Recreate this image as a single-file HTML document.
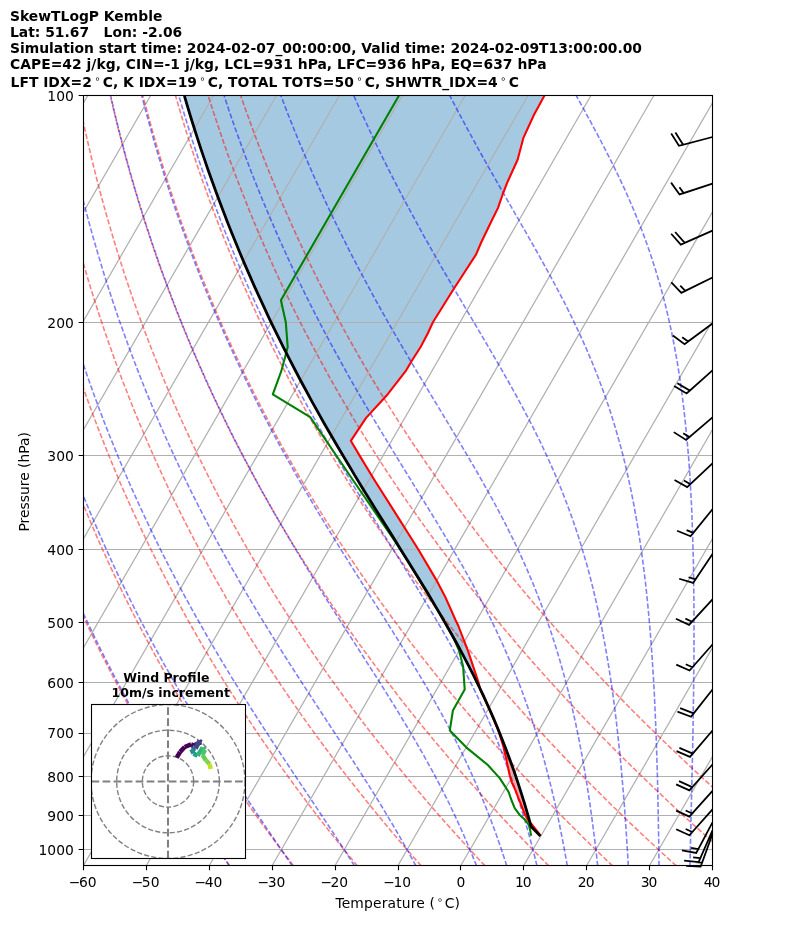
<!DOCTYPE html><html><head><meta charset="utf-8"><title>SkewTLogP Kemble</title><style>html,body{margin:0;padding:0;background:#fff}svg{display:block}</style></head><body><svg width="794" height="937" viewBox="0 0 794 937">
<rect width="794" height="937" fill="#fff"/>
<defs><clipPath id="ax"><rect x="83.5" y="95.5" width="629.0" height="770.0"/></clipPath><clipPath id="hd"><rect x="91.5" y="704.5" width="154" height="154"/></clipPath></defs>
<g clip-path="url(#ax)" fill="none">
<path d="M544.6,95.3L534.0,114.7L523.5,137.6L517.6,159.7L507.6,181.7L502.8,194.0L497.9,208.1L492.0,220.0L481.4,242.0L476.1,254.4L453.2,289.7L432.9,322.3L427.6,333.7L420.6,347.0L412.3,360.0L406.2,370.3L386.4,395.8L366.1,417.9L350.8,440.8L360.8,457.6L374.4,480.0L392.9,509.1L418.5,549.7L436.1,579.6L445.8,598.1L451.1,610.0L455.5,620.0L458.2,625.5L467.9,650.6L478.5,682.3L476.9,682.3L472.0,672.4L466.9,662.4L461.6,652.5L456.2,642.5L450.7,632.6L445.1,622.6L439.3,612.7L433.4,602.7L427.4,592.8L421.4,582.8L415.3,572.9L409.1,563.0L402.9,553.0L396.7,543.1L390.5,533.1L384.3,523.2L378.1,513.2L371.9,503.3L365.8,493.3L359.7,483.4L353.6,473.4L347.7,463.5L341.7,453.5L335.9,443.6L330.1,433.7L324.4,423.7L318.8,413.8L313.3,403.8L307.8,393.9L302.5,383.9L297.2,374.0L292.0,364.0L286.9,354.1L281.9,344.1L276.9,334.2L272.1,324.3L267.4,314.3L262.7,304.4L258.1,294.4L253.6,284.5L249.2,274.5L244.9,264.6L240.7,254.6L236.6,244.7L232.5,234.7L228.5,224.8L224.7,214.8L220.9,204.9L217.1,195.0L213.5,185.0L209.9,175.1L206.5,165.1L203.1,155.2L199.7,145.2L196.5,135.3L193.3,125.3L190.2,115.4L187.2,105.4L184.4,95.5Z" fill="#1f77b4" fill-opacity="0.4" stroke="none"/>
<path d="M503.2,745.9L505.7,756.5L509.8,775.9L512.0,782.9L515.6,790.6L518.7,799.0L520.2,802.5L525.3,815.3L528.8,821.4L529.7,821.4L528.6,817.4L527.4,813.5L526.3,809.5L525.1,805.5L523.9,801.5L522.7,797.6L521.4,793.6L520.2,789.6L518.9,785.6L517.6,781.7L516.2,777.7L514.9,773.7L513.5,769.7L512.1,765.8L510.7,761.8L509.2,757.8L507.8,753.8L506.3,749.9L504.7,745.9Z" fill="#d62728" fill-opacity="0.4" stroke="none"/>
<path d="M83.5,95.5H712.5" stroke="#b0b0b0" stroke-width="1.11"/>
<path d="M83.5,322.5H712.5" stroke="#b0b0b0" stroke-width="1.11"/>
<path d="M83.5,455.5H712.5" stroke="#b0b0b0" stroke-width="1.11"/>
<path d="M83.5,549.5H712.5" stroke="#b0b0b0" stroke-width="1.11"/>
<path d="M83.5,622.5H712.5" stroke="#b0b0b0" stroke-width="1.11"/>
<path d="M83.5,682.5H712.5" stroke="#b0b0b0" stroke-width="1.11"/>
<path d="M83.5,733.5H712.5" stroke="#b0b0b0" stroke-width="1.11"/>
<path d="M83.5,776.5H712.5" stroke="#b0b0b0" stroke-width="1.11"/>
<path d="M83.5,815.5H712.5" stroke="#b0b0b0" stroke-width="1.11"/>
<path d="M83.5,849.5H712.5" stroke="#b0b0b0" stroke-width="1.11"/>
<path d="M-356.80,865.5L87.76,95.5M-293.90,865.5L150.66,95.5M-231.00,865.5L213.56,95.5M-168.10,865.5L276.46,95.5M-105.20,865.5L339.36,95.5M-42.30,865.5L402.26,95.5M20.60,865.5L465.16,95.5M83.50,865.5L528.06,95.5M146.40,865.5L590.96,95.5M209.30,865.5L653.86,95.5M272.20,865.5L716.76,95.5M335.10,865.5L779.66,95.5M398.00,865.5L842.56,95.5M460.90,865.5L905.46,95.5M523.80,865.5L968.36,95.5M586.70,865.5L1031.26,95.5M649.60,865.5L1094.16,95.5M712.50,865.5L1157.06,95.5" stroke="#b0b0b0" stroke-width="1.25"/>
<path d="M229.9,865.9L218.7,850.2L207.8,834.5L197.2,818.8L186.9,803.0L176.8,787.3L167.0,771.6L157.4,755.9L148.1,740.2L139.1,724.5L130.2,708.8L121.7,693.0L113.4,677.3L105.3,661.6L97.4,645.9L89.8,630.2L82.4,614.5L75.2,598.8L68.2,583.0L61.5,567.3L55.0,551.6L48.7,535.9L42.6,520.2L36.7,504.5L31.0,488.8L25.5,473.0L20.2,457.3L15.1,441.6L10.2,425.9L5.5,410.2L1.0,394.5L-3.4,378.8L-7.5,363.0L-11.5,347.3L-15.3,331.6L-18.9,315.9L-22.4,300.2L-25.7,284.5L-28.8,268.8L-31.7,253.0L-34.5,237.3L-37.1,221.6L-39.6,205.9L-41.9,190.2L-44.0,174.5L-46.0,158.8L-47.9,143.0L-49.6,127.3L-51.2,111.6L-52.6,95.9M293.6,865.9L281.6,850.2L269.9,834.5L258.4,818.8L247.3,803.0L236.4,787.3L225.7,771.6L215.4,755.9L205.3,740.2L195.4,724.5L185.9,708.8L176.5,693.0L167.5,677.3L158.6,661.6L150.1,645.9L141.7,630.2L133.6,614.5L125.7,598.8L118.1,583.0L110.7,567.3L103.5,551.6L96.5,535.9L89.8,520.2L83.2,504.5L76.9,488.8L70.8,473.0L64.9,457.3L59.2,441.6L53.7,425.9L48.4,410.2L43.3,394.5L38.4,378.8L33.6,363.0L29.1,347.3L24.7,331.6L20.6,315.9L16.6,300.2L12.8,284.5L9.1,268.8L5.7,253.0L2.4,237.3L-0.7,221.6L-3.7,205.9L-6.5,190.2L-9.1,174.5L-11.6,158.8L-13.9,143.0L-16.1,127.3L-18.1,111.6L-20.0,95.9M357.4,865.9L344.5,850.2L331.9,834.5L319.6,818.8L307.6,803.0L295.9,787.3L284.5,771.6L273.3,755.9L262.4,740.2L251.8,724.5L241.5,708.8L231.4,693.0L221.6,677.3L212.0,661.6L202.7,645.9L193.7,630.2L184.8,614.5L176.3,598.8L167.9,583.0L159.8,567.3L152.0,551.6L144.4,535.9L137.0,520.2L129.8,504.5L122.8,488.8L116.1,473.0L109.6,457.3L103.3,441.6L97.2,425.9L91.3,410.2L85.6,394.5L80.1,378.8L74.8,363.0L69.7,347.3L64.8,331.6L60.1,315.9L55.5,300.2L51.2,284.5L47.0,268.8L43.1,253.0L39.3,237.3L35.6,221.6L32.2,205.9L28.9,190.2L25.8,174.5L22.8,158.8L20.0,143.0L17.4,127.3L14.9,111.6L12.6,95.9M421.2,865.9L407.5,850.2L394.0,834.5L380.9,818.8L368.0,803.0L355.5,787.3L343.2,771.6L331.3,755.9L319.6,740.2L308.2,724.5L297.1,708.8L286.3,693.0L275.7,677.3L265.4,661.6L255.4,645.9L245.6,630.2L236.1,614.5L226.8,598.8L217.8,583.0L209.0,567.3L200.5,551.6L192.2,535.9L184.1,520.2L176.3,504.5L168.7,488.8L161.4,473.0L154.2,457.3L147.3,441.6L140.6,425.9L134.1,410.2L127.9,394.5L121.8,378.8L115.9,363.0L110.3,347.3L104.8,331.6L99.6,315.9L94.5,300.2L89.6,284.5L84.9,268.8L80.4,253.0L76.1,237.3L72.0,221.6L68.1,205.9L64.3,190.2L60.7,174.5L57.3,158.8L54.0,143.0L50.9,127.3L48.0,111.6L45.2,95.9M485.0,865.9L470.4,850.2L456.1,834.5L442.1,818.8L428.4,803.0L415.0,787.3L402.0,771.6L389.2,755.9L376.8,740.2L364.6,724.5L352.7,708.8L341.1,693.0L329.8,677.3L318.8,661.6L308.0,645.9L297.5,630.2L287.3,614.5L277.3,598.8L267.6,583.0L258.2,567.3L249.0,551.6L240.0,535.9L231.3,520.2L222.9,504.5L214.7,488.8L206.7,473.0L198.9,457.3L191.4,441.6L184.1,425.9L177.0,410.2L170.1,394.5L163.5,378.8L157.1,363.0L150.9,347.3L144.9,331.6L139.0,315.9L133.4,300.2L128.0,284.5L122.8,268.8L117.8,253.0L113.0,237.3L108.4,221.6L103.9,205.9L99.7,190.2L95.6,174.5L91.7,158.8L88.0,143.0L84.4,127.3L81.0,111.6L77.8,95.9M548.8,865.9L533.3,850.2L518.1,834.5L503.3,818.8L488.8,803.0L474.6,787.3L460.7,771.6L447.2,755.9L433.9,740.2L421.0,724.5L408.3,708.8L396.0,693.0L383.9,677.3L372.2,661.6L360.7,645.9L349.5,630.2L338.5,614.5L327.9,598.8L317.5,583.0L307.4,567.3L297.5,551.6L287.9,535.9L278.5,520.2L269.4,504.5L260.6,488.8L252.0,473.0L243.6,457.3L235.4,441.6L227.5,425.9L219.9,410.2L212.4,394.5L205.2,378.8L198.2,363.0L191.4,347.3L184.9,331.6L178.5,315.9L172.4,300.2L166.5,284.5L160.7,268.8L155.2,253.0L149.9,237.3L144.8,221.6L139.8,205.9L135.1,190.2L130.5,174.5L126.1,158.8L121.9,143.0L117.9,127.3L114.1,111.6L110.4,95.9M612.6,865.9L596.2,850.2L580.2,834.5L564.5,818.8L549.2,803.0L534.2,787.3L519.5,771.6L505.1,755.9L491.1,740.2L477.4,724.5L464.0,708.8L450.8,693.0L438.0,677.3L425.5,661.6L413.3,645.9L401.4,630.2L389.8,614.5L378.4,598.8L367.3,583.0L356.5,567.3L346.0,551.6L335.7,535.9L325.7,520.2L316.0,504.5L306.5,488.8L297.2,473.0L288.3,457.3L279.5,441.6L271.0,425.9L262.8,410.2L254.7,394.5L246.9,378.8L239.4,363.0L232.0,347.3L224.9,331.6L218.0,315.9L211.4,300.2L204.9,284.5L198.6,268.8L192.6,253.0L186.8,237.3L181.1,221.6L175.7,205.9L170.5,190.2L165.4,174.5L160.6,158.8L155.9,143.0L151.4,127.3L147.2,111.6L143.0,95.9M676.3,865.9L659.1,850.2L642.2,834.5L625.7,818.8L609.5,803.0L593.7,787.3L578.2,771.6L563.1,755.9L548.3,740.2L533.8,724.5L519.6,708.8L505.7,693.0L492.2,677.3L478.9,661.6L466.0,645.9L453.3,630.2L441.0,614.5L428.9,598.8L417.2,583.0L405.7,567.3L394.5,551.6L383.6,535.9L372.9,520.2L362.5,504.5L352.4,488.8L342.5,473.0L332.9,457.3L323.6,441.6L314.5,425.9L305.6,410.2L297.0,394.5L288.7,378.8L280.5,363.0L272.6,347.3L265.0,331.6L257.5,315.9L250.3,300.2L243.3,284.5L236.5,268.8L230.0,253.0L223.6,237.3L217.5,221.6L211.6,205.9L205.9,190.2L200.3,174.5L195.0,158.8L189.9,143.0L184.9,127.3L180.2,111.6L175.6,95.9M740.1,865.9L722.0,850.2L704.3,834.5L686.9,818.8L669.9,803.0L653.3,787.3L637.0,771.6L621.0,755.9L605.4,740.2L590.1,724.5L575.2,708.8L560.6,693.0L546.3,677.3L532.3,661.6L518.6,645.9L505.3,630.2L492.2,614.5L479.5,598.8L467.0,583.0L454.9,567.3L443.0,551.6L431.4,535.9L420.1,520.2L409.1,504.5L398.3,488.8L387.8,473.0L377.6,457.3L367.6,441.6L357.9,425.9L348.5,410.2L339.3,394.5L330.4,378.8L321.7,363.0L313.2,347.3L305.0,331.6L297.0,315.9L289.3,300.2L281.7,284.5L274.4,268.8L267.4,253.0L260.5,237.3L253.9,221.6L247.5,205.9L241.3,190.2L235.2,174.5L229.4,158.8L223.8,143.0L218.5,127.3L213.3,111.6L208.2,95.9M803.9,865.9L784.9,850.2L766.4,834.5L748.1,818.8L730.3,803.0L712.8,787.3L695.7,771.6L679.0,755.9L662.6,740.2L646.5,724.5L630.8,708.8L615.4,693.0L600.4,677.3L585.7,661.6L571.3,645.9L557.2,630.2L543.4,614.5L530.0,598.8L516.9,583.0L504.0,567.3L491.5,551.6L479.2,535.9L467.3,520.2L455.6,504.5L444.2,488.8L433.1,473.0L422.3,457.3L411.7,441.6L401.4,425.9L391.4,410.2L381.6,394.5L372.1,378.8L362.8,363.0L353.8,347.3L345.0,331.6L336.5,315.9L328.2,300.2L320.2,284.5L312.4,268.8L304.8,253.0L297.4,237.3L290.3,221.6L283.3,205.9L276.6,190.2L270.2,174.5L263.9,158.8L257.8,143.0L252.0,127.3L246.3,111.6L240.8,95.9" stroke="#ff0000" stroke-opacity="0.5" stroke-width="1.6" stroke-dasharray="5.14 2.22"/>
<path d="M229.3,865.9L218.7,850.2L208.2,834.5L198.0,818.8L187.9,803.0L178.0,787.3L168.3,771.6L158.8,755.9L149.5,740.2L140.5,724.5L131.7,708.8L123.2,693.0L114.9,677.3L106.8,661.6L98.9,645.9L91.3,630.2L83.8,614.5L76.7,598.8L69.7,583.0L62.9,567.3L56.4,551.6L50.1,535.9L43.9,520.2L38.0,504.5L32.3,488.8L26.8,473.0L21.5,457.3L16.4,441.6L11.5,425.9L6.7,410.2L2.2,394.5L-2.2,378.8L-6.3,363.0L-10.3,347.3L-14.1,331.6L-17.8,315.9L-21.2,300.2L-24.5,284.5L-27.7,268.8L-30.6,253.0L-33.4,237.3L-36.1,221.6L-38.6,205.9L-40.9,190.2L-43.0,174.5L-45.1,158.8L-46.9,143.0L-48.6,127.3L-50.2,111.6L-51.6,95.9M292.3,865.9L281.6,850.2L270.9,834.5L260.3,818.8L249.8,803.0L239.4,787.3L229.1,771.6L219.0,755.9L209.1,740.2L199.4,724.5L189.9,708.8L180.6,693.0L171.5,677.3L162.7,661.6L154.1,645.9L145.7,630.2L137.6,614.5L129.7,598.8L122.0,583.0L114.5,567.3L107.3,551.6L100.3,535.9L93.5,520.2L86.9,504.5L80.5,488.8L74.4,473.0L68.4,457.3L62.7,441.6L57.1,425.9L51.8,410.2L46.6,394.5L41.6,378.8L36.9,363.0L32.3,347.3L27.9,331.6L23.7,315.9L19.7,300.2L15.8,284.5L12.1,268.8L8.6,253.0L5.3,237.3L2.1,221.6L-0.9,205.9L-3.7,190.2L-6.4,174.5L-8.9,158.8L-11.2,143.0L-13.4,127.3L-15.5,111.6L-17.4,95.9M354.5,865.9L344.5,850.2L334.3,834.5L323.9,818.8L313.4,803.0L302.9,787.3L292.4,771.6L282.0,755.9L271.6,740.2L261.4,724.5L251.3,708.8L241.4,693.0L231.6,677.3L222.1,661.6L212.8,645.9L203.7,630.2L194.8,614.5L186.1,598.8L177.7,583.0L169.5,567.3L161.5,551.6L153.8,535.9L146.3,520.2L139.0,504.5L131.9,488.8L125.0,473.0L118.4,457.3L112.0,441.6L105.7,425.9L99.7,410.2L93.9,394.5L88.3,378.8L82.9,363.0L77.7,347.3L72.7,331.6L67.9,315.9L63.2,300.2L58.8,284.5L54.5,268.8L50.5,253.0L46.6,237.3L42.8,221.6L39.3,205.9L35.9,190.2L32.7,174.5L29.6,158.8L26.8,143.0L24.0,127.3L21.5,111.6L19.1,95.9M415.9,865.9L407.4,850.2L398.5,834.5L389.2,818.8L379.7,803.0L369.9,787.3L359.9,771.6L349.8,755.9L339.5,740.2L329.2,724.5L318.9,708.8L308.6,693.0L298.4,677.3L288.3,661.6L278.4,645.9L268.6,630.2L259.0,614.5L249.6,598.8L240.4,583.0L231.4,567.3L222.6,551.6L214.1,535.9L205.8,520.2L197.7,504.5L189.8,488.8L182.2,473.0L174.8,457.3L167.6,441.6L160.6,425.9L153.9,410.2L147.3,394.5L141.0,378.8L134.9,363.0L129.0,347.3L123.3,331.6L117.7,315.9L112.4,300.2L107.3,284.5L102.4,268.8L97.7,253.0L93.1,237.3L88.8,221.6L84.6,205.9L80.6,190.2L76.8,174.5L73.1,158.8L69.7,143.0L66.4,127.3L63.2,111.6L60.3,95.9M476.6,865.9L470.2,850.2L463.5,834.5L456.4,818.8L448.9,803.0L441.0,787.3L432.7,771.6L424.0,755.9L415.0,740.2L405.7,724.5L396.2,708.8L386.4,693.0L376.5,677.3L366.4,661.6L356.4,645.9L346.3,630.2L336.2,614.5L326.2,598.8L316.3,583.0L306.6,567.3L297.0,551.6L287.6,535.9L278.4,520.2L269.5,504.5L260.7,488.8L252.1,473.0L243.8,457.3L235.7,441.6L227.8,425.9L220.2,410.2L212.7,394.5L205.5,378.8L198.5,363.0L191.7,347.3L185.2,331.6L178.8,315.9L172.7,300.2L166.8,284.5L161.0,268.8L155.5,253.0L150.2,237.3L145.0,221.6L140.1,205.9L135.3,190.2L130.8,174.5L126.4,158.8L122.2,143.0L118.2,127.3L114.3,111.6L110.7,95.9M506.8,865.9L501.7,850.2L496.2,834.5L490.4,818.8L484.2,803.0L477.6,787.3L470.6,771.6L463.3,755.9L455.5,740.2L447.3,724.5L438.8,708.8L430.0,693.0L420.8,677.3L411.3,661.6L401.7,645.9L391.9,630.2L382.0,614.5L372.0,598.8L362.0,583.0L352.1,567.3L342.2,551.6L332.5,535.9L322.9,520.2L313.4,504.5L304.2,488.8L295.1,473.0L286.3,457.3L277.6,441.6L269.2,425.9L261.0,410.2L253.0,394.5L245.3,378.8L237.8,363.0L230.5,347.3L223.4,331.6L216.5,315.9L209.9,300.2L203.4,284.5L197.2,268.8L191.2,253.0L185.4,237.3L179.7,221.6L174.3,205.9L169.1,190.2L164.1,174.5L159.3,158.8L154.6,143.0L150.2,127.3L145.9,111.6L141.8,95.9M537.0,865.9L533.1,850.2L528.9,834.5L524.4,818.8L519.6,803.0L514.5,787.3L509.0,771.6L503.2,755.9L497.0,740.2L490.3,724.5L483.3,708.8L475.9,693.0L468.0,677.3L459.8,661.6L451.2,645.9L442.3,630.2L433.1,614.5L423.7,598.8L414.1,583.0L404.3,567.3L394.5,551.6L384.6,535.9L374.8,520.2L365.1,504.5L355.4,488.8L345.9,473.0L336.5,457.3L327.3,441.6L318.4,425.9L309.6,410.2L301.0,394.5L292.6,378.8L284.5,363.0L276.6,347.3L268.9,331.6L261.4,315.9L254.1,300.2L247.1,284.5L240.3,268.8L233.7,253.0L227.3,237.3L221.1,221.6L215.1,205.9L209.4,190.2L203.8,174.5L198.4,158.8L193.2,143.0L188.3,127.3L183.5,111.6L178.9,95.9M567.3,865.9L564.5,850.2L561.5,834.5L558.3,818.8L554.9,803.0L551.2,787.3L547.2,771.6L543.0,755.9L538.4,740.2L533.5,724.5L528.3,708.8L522.7,693.0L516.6,677.3L510.2,661.6L503.4,645.9L496.1,630.2L488.5,614.5L480.4,598.8L472.0,583.0L463.3,567.3L454.2,551.6L444.9,535.9L435.5,520.2L425.9,504.5L416.2,488.8L406.5,473.0L396.9,457.3L387.3,441.6L377.8,425.9L368.4,410.2L359.2,394.5L350.2,378.8L341.4,363.0L332.8,347.3L324.4,331.6L316.2,315.9L308.2,300.2L300.5,284.5L292.9,268.8L285.6,253.0L278.5,237.3L271.7,221.6L265.0,205.9L258.6,190.2L252.3,174.5L246.3,158.8L240.5,143.0L234.8,127.3L229.4,111.6L224.2,95.9M597.7,865.9L596.0,850.2L594.0,834.5L592.0,818.8L589.8,803.0L587.4,787.3L584.8,771.6L582.1,755.9L579.1,740.2L575.9,724.5L572.4,708.8L568.7,693.0L564.6,677.3L560.2,661.6L555.5,645.9L550.4,630.2L545.0,614.5L539.1,598.8L532.8,583.0L526.1,567.3L519.0,551.6L511.4,535.9L503.5,520.2L495.2,504.5L486.5,488.8L477.6,473.0L468.4,457.3L459.1,441.6L449.7,425.9L440.2,410.2L430.7,394.5L421.2,378.8L411.8,363.0L402.6,347.3L393.4,331.6L384.5,315.9L375.7,300.2L367.2,284.5L358.8,268.8L350.6,253.0L342.7,237.3L335.0,221.6L327.5,205.9L320.2,190.2L313.1,174.5L306.3,158.8L299.6,143.0L293.2,127.3L287.0,111.6L281.0,95.9M628.3,865.9L627.4,850.2L626.4,834.5L625.3,818.8L624.2,803.0L622.9,787.3L621.5,771.6L620.1,755.9L618.4,740.2L616.7,724.5L614.8,708.8L612.7,693.0L610.4,677.3L607.9,661.6L605.2,645.9L602.2,630.2L599.0,614.5L595.5,598.8L591.7,583.0L587.6,567.3L583.0,551.6L578.2,535.9L572.9,520.2L567.2,504.5L561.1,488.8L554.5,473.0L547.5,457.3L540.1,441.6L532.3,425.9L524.1,410.2L515.6,394.5L506.8,378.8L497.8,363.0L488.6,347.3L479.4,331.6L470.1,315.9L460.8,300.2L451.6,284.5L442.5,268.8L433.5,253.0L424.6,237.3L416.0,221.6L407.5,205.9L399.2,190.2L391.1,174.5L383.2,158.8L375.6,143.0L368.2,127.3L360.9,111.6L353.9,95.9M659.0,865.9L658.8,850.2L658.6,834.5L658.3,818.8L658.0,803.0L657.7,787.3L657.3,771.6L656.8,755.9L656.3,740.2L655.7,724.5L655.0,708.8L654.3,693.0L653.4,677.3L652.4,661.6L651.3,645.9L650.1,630.2L648.7,614.5L647.2,598.8L645.5,583.0L643.6,567.3L641.5,551.6L639.2,535.9L636.6,520.2L633.8,504.5L630.7,488.8L627.2,473.0L623.5,457.3L619.3,441.6L614.8,425.9L609.9,410.2L604.5,394.5L598.7,378.8L592.4,363.0L585.7,347.3L578.6,331.6L571.1,315.9L563.2,300.2L554.9,284.5L546.4,268.8L537.6,253.0L528.7,237.3L519.7,221.6L510.7,205.9L501.7,190.2L492.7,174.5L483.8,158.8L475.1,143.0L466.5,127.3L458.1,111.6L449.9,95.9M689.9,865.9L690.3,850.2L690.7,834.5L691.0,818.8L691.4,803.0L691.8,787.3L692.1,771.6L692.5,755.9L692.8,740.2L693.1,724.5L693.3,708.8L693.6,693.0L693.7,677.3L693.9,661.6L694.0,645.9L694.0,630.2L694.0,614.5L693.9,598.8L693.7,583.0L693.5,567.3L693.1,551.6L692.7,535.9L692.1,520.2L691.5,504.5L690.6,488.8L689.7,473.0L688.6,457.3L687.2,441.6L685.7,425.9L684.0,410.2L682.1,394.5L679.9,378.8L677.4,363.0L674.6,347.3L671.5,331.6L668.0,315.9L664.2,300.2L659.9,284.5L655.2,268.8L650.1,253.0L644.5,237.3L638.5,221.6L632.0,205.9L625.1,190.2L617.7,174.5L610.0,158.8L601.9,143.0L593.6,127.3L585.1,111.6L576.4,95.9" stroke="#0000ff" stroke-opacity="0.5" stroke-width="1.6" stroke-dasharray="5.14 2.22"/>
<path d="M544.6,95.3L534.0,114.7L523.5,137.6L517.6,159.7L507.6,181.7L502.8,194.0L497.9,208.1L492.0,220.0L481.4,242.0L476.1,254.4L453.2,289.7L432.9,322.3L427.6,333.7L420.6,347.0L412.3,360.0L406.2,370.3L386.4,395.8L366.1,417.9L350.8,440.8L360.8,457.6L374.4,480.0L392.9,509.1L418.5,549.7L436.1,579.6L445.8,598.1L451.1,610.0L455.5,620.0L458.2,625.5L467.9,650.6L478.5,682.3L480.4,690.0L485.1,700.0L491.8,715.0L498.2,730.0L503.2,745.9L505.7,756.5L509.8,775.9L512.0,782.9L515.6,790.6L518.7,799.0L520.2,802.5L525.3,815.3L528.8,821.4L531.4,823.9L540.5,835.5" stroke="#ff0000" stroke-width="2.08" stroke-linejoin="round"/>
<path d="M399.0,95.5L280.9,300.2L285.8,322.3L287.7,347.0L285.0,357.6L281.1,371.7L272.8,394.3L310.2,417.1L352.9,480.0L394.7,540.8L402.0,552.0L408.8,562.9L415.5,573.7L422.1,584.6L428.7,595.4L435.2,606.3L441.6,617.1L447.8,628.0L452.9,636.5L459.1,650.6L463.1,666.4L464.7,689.4L452.9,710.5L449.8,730.5L466.5,747.6L487.6,764.8L499.7,778.1L504.6,785.6L508.5,791.7L511.0,799.0L514.7,808.2L520.0,815.3L525.3,820.1L528.8,825.0L530.1,829.4L530.6,832.9L531.2,835.7" stroke="#008000" stroke-width="2.08" stroke-linejoin="round"/>
<path d="M540.4,836.1L531.1,826.5L530.2,823.2L527.2,812.7L524.1,802.1L520.8,791.6L517.4,781.1L513.8,770.5L510.0,760.0L506.1,749.4L502.0,738.9L497.8,728.4L493.3,717.8L488.7,707.3L483.9,696.7L478.8,686.2L473.7,675.6L468.3,665.1L462.8,654.6L457.1,644.0L451.2,633.5L445.2,622.9L439.1,612.4L432.9,601.9L426.6,591.3L420.1,580.8L413.6,570.2L407.1,559.7L400.5,549.2L394.0,538.6L387.4,528.1L380.8,517.5L374.2,507.0L367.7,496.5L361.2,485.9L354.8,475.4L348.5,464.8L342.2,454.3L336.0,443.7L329.9,433.2L323.8,422.7L317.9,412.1L312.0,401.6L306.3,391.0L300.6,380.5L295.1,370.0L289.6,359.4L284.2,348.9L279.0,338.3L273.8,327.8L268.7,317.3L263.8,306.7L258.9,296.2L254.1,285.6L249.5,275.1L244.9,264.6L240.4,254.0L236.1,243.5L231.8,232.9L227.6,222.4L223.5,211.8L219.5,201.3L215.6,190.8L211.8,180.2L208.0,169.7L204.4,159.1L200.8,148.6L197.4,138.1L194.0,127.5L190.7,117.0L187.5,106.4L184.4,95.9" stroke="#000" stroke-width="2.78" stroke-linejoin="round"/>
</g>
<path d="M712.50,137.00L678.95,145.84L678.95,145.84L671.21,133.52L678.95,145.84L683.14,144.74L675.41,132.42L683.14,144.74L712.50,137.00M712.50,183.60L679.54,194.45L679.54,194.45L671.08,182.63L679.54,194.45L683.66,193.10L679.43,187.18L683.66,193.10L712.50,183.60M712.50,230.60L680.77,244.66L680.77,244.66L671.19,233.72L680.77,244.66L684.74,242.90L675.15,231.97L684.74,242.90L712.50,230.60M712.50,277.50L681.36,292.82L681.36,292.82L671.34,282.28L681.36,292.82L685.26,290.90L680.25,285.63L685.26,290.90L712.50,277.50M712.50,323.50L684.58,344.11L684.58,344.11L672.85,335.52L684.58,344.11L688.07,341.53L682.21,337.24L688.07,341.53L712.50,323.50M712.50,370.40L686.60,393.50L686.60,393.50L674.13,386.03L686.60,393.50L689.84,390.61L677.36,383.14L689.84,390.61L712.50,370.40M712.50,417.40L686.07,439.88L686.07,439.88L673.77,432.12L686.07,439.88L689.37,437.07L683.22,433.19L689.37,437.07L712.50,417.40M712.50,463.40L687.17,487.12L687.17,487.12L674.52,479.95L687.17,487.12L690.34,484.15L684.01,480.57L690.34,484.15L712.50,463.40M712.50,509.30L690.58,536.20L690.58,536.20L677.08,530.80L690.58,536.20L693.32,532.84L686.57,530.14L693.32,532.84L712.50,509.30M712.50,554.10L693.14,582.89L693.14,582.89L679.20,578.75L693.14,582.89L695.56,579.30L688.59,577.22L695.56,579.30L712.50,554.10M712.50,599.30L689.09,624.91L689.09,624.91L675.92,618.75L689.09,624.91L692.02,621.71L685.43,618.63L692.02,621.71L712.50,599.30M712.50,644.50L689.55,670.53L689.55,670.53L676.27,664.60L689.55,670.53L692.42,667.27L685.78,664.31L692.42,667.27L712.50,644.50M712.50,689.50L691.04,716.77L691.04,716.77L677.45,711.59L691.04,716.77L693.72,713.36L680.13,708.18L693.72,713.36L712.50,689.50M712.50,730.50L689.96,756.88L689.96,756.88L676.59,751.16L689.96,756.88L692.78,753.58L679.41,747.87L692.78,753.58L712.50,730.50M712.50,764.50L689.38,790.37L689.38,790.37L676.14,784.36L689.38,790.37L692.27,787.14L679.03,781.12L692.27,787.14L712.50,764.50M712.50,790.80L689.38,816.67L689.38,816.67L676.14,810.66L689.38,816.67L692.27,813.44L685.65,810.43L692.27,813.44L712.50,790.80M712.50,809.40L689.41,835.30L689.41,835.30L676.16,829.30L689.41,835.30L692.30,832.06L685.67,829.06L692.30,832.06L712.50,809.40M712.50,822.30L696.25,852.96L696.25,852.96L681.95,850.29L696.25,852.96L698.28,849.13L691.13,847.79L698.28,849.13L712.50,822.30M712.50,830.30L698.61,862.10L698.61,862.10L684.16,860.52L698.61,862.10L700.35,858.12L693.12,857.33L700.35,858.12L712.50,830.30M712.50,834.00L700.66,866.62L700.66,866.62L686.13,865.96L700.66,866.62L702.14,862.54L694.87,862.21L702.14,862.54L712.50,834.00" fill="none" stroke="#000" stroke-width="1.75" stroke-linejoin="miter"/>
<rect x="83.5" y="95.5" width="629.0" height="770.0" fill="none" stroke="#000" stroke-width="1.11"/>
<path d="M83.5,95.5h-4.86M83.5,322.5h-4.86M83.5,455.5h-4.86M83.5,549.5h-4.86M83.5,622.5h-4.86M83.5,682.5h-4.86M83.5,733.5h-4.86M83.5,776.5h-4.86M83.5,815.5h-4.86M83.5,849.5h-4.86M83.5,865.5v4.86M146.5,865.5v4.86M209.5,865.5v4.86M272.5,865.5v4.86M335.5,865.5v4.86M398.5,865.5v4.86M460.5,865.5v4.86M523.5,865.5v4.86M586.5,865.5v4.86M649.5,865.5v4.86M712.5,865.5v4.86" stroke="#000" stroke-width="1.11" fill="none"/>
<g font-family="DejaVu Sans, Liberation Sans, sans-serif" font-size="13.89" fill="#000">
<text x="73.8" y="101.1" text-anchor="end">100</text>
<text x="73.8" y="328.1" text-anchor="end">200</text>
<text x="73.8" y="460.9" text-anchor="end">300</text>
<text x="73.8" y="555.1" text-anchor="end">400</text>
<text x="73.8" y="628.1" text-anchor="end">500</text>
<text x="73.8" y="687.8" text-anchor="end">600</text>
<text x="73.8" y="738.3" text-anchor="end">700</text>
<text x="73.8" y="782.1" text-anchor="end">800</text>
<text x="73.8" y="820.6" text-anchor="end">900</text>
<text x="73.8" y="855.1" text-anchor="end">1000</text>
<text x="82.7" y="886.5" dx="0 -1.5" text-anchor="middle">−60</text>
<text x="145.6" y="886.5" dx="0 -1.5" text-anchor="middle">−50</text>
<text x="208.5" y="886.5" dx="0 -1.5" text-anchor="middle">−40</text>
<text x="271.4" y="886.5" dx="0 -1.5" text-anchor="middle">−30</text>
<text x="334.3" y="886.5" dx="0 -1.5" text-anchor="middle">−20</text>
<text x="397.2" y="886.5" dx="0 -1.5" text-anchor="middle">−10</text>
<text x="460.9" y="886.5" text-anchor="middle">0</text>
<text x="523.3" y="886.5" dx="0 -1" text-anchor="middle">10</text>
<text x="586.2" y="886.5" dx="0 -1" text-anchor="middle">20</text>
<text x="649.1" y="886.5" dx="0 -1" text-anchor="middle">30</text>
<text x="712.0" y="886.5" dx="0 -1" text-anchor="middle">40</text>
<text x="335.4" y="907.9" textLength="99.6" lengthAdjust="spacing">Temperature (</text><text x="436.9" y="903" font-size="9.72">∘</text><text x="444.7" y="907.9">C)</text>
<text transform="translate(29.1,481.8) rotate(-90)" text-anchor="middle">Pressure (hPa)</text>
</g>
<g font-family="DejaVu Sans, Liberation Sans, sans-serif" font-size="13.89" font-weight="bold" fill="#000">
<text x="10" y="21" xml:space="preserve">SkewTLogP Kemble</text>
<text x="10" y="37" xml:space="preserve">Lat: 51.67   Lon: -2.06</text>
<text x="10" y="53" textLength="632.0" lengthAdjust="spacing" xml:space="preserve">Simulation start time: 2024-02-07_00:00:00, Valid time: 2024-02-09T13:00:00.00</text>
<text x="10" y="69" textLength="536.5" lengthAdjust="spacing" xml:space="preserve">CAPE=42 j/kg, CIN=-1 j/kg, LCL=931 hPa, LFC=936 hPa, EQ=637 hPa</text>
<text x="10.6" y="87">LFT IDX=2</text>
<text x="94.4" y="82.1" font-size="9.72" font-weight="normal">∘</text>
<text x="102.8" y="87">C, K IDX=19</text>
<text x="199.5" y="82.1" font-size="9.72" font-weight="normal">∘</text>
<text x="207.8" y="87">C, TOTAL TOTS=50</text>
<text x="356.4" y="82.1" font-size="9.72" font-weight="normal">∘</text>
<text x="364.8" y="87">C, SHWTR_IDX=4</text>
<text x="500.3" y="82.1" font-size="9.72" font-weight="normal">∘</text>
<text x="508.7" y="87">C</text>
</g>
<rect x="91.5" y="704.5" width="154" height="154" fill="#fff" stroke="none"/>
<g clip-path="url(#hd)" fill="none" stroke="#808080">
<circle cx="168.0" cy="781.5" r="25.67" stroke-width="1.39" stroke-dasharray="5.14 2.22"/>
<circle cx="168.0" cy="781.5" r="51.33" stroke-width="1.39" stroke-dasharray="5.14 2.22"/>
<circle cx="168.0" cy="781.5" r="77.0" stroke-width="1.39" stroke-dasharray="5.14 2.22"/>
<path d="M91.5,781.5H245.5M168.0,858.5V704.5" stroke-width="2.08" stroke-dasharray="7.71 3.33"/>
<path d="M176.7,757.6L180.1,751.9" stroke="#440154" stroke-width="4.5"/>
<path d="M180.1,751.9L184.7,747.0" stroke="#440154" stroke-width="4.5"/>
<path d="M184.7,747.0L191.1,744.4" stroke="#440154" stroke-width="4.5"/>
<path d="M191.1,744.4L193.8,745.3" stroke="#46075a" stroke-width="4.5"/>
<path d="M193.8,745.3L201.3,742.2" stroke="#481a6c" stroke-width="4.5"/>
<path d="M201.3,742.2L199.5,740.9" stroke="#472d7b" stroke-width="4.5"/>
<path d="M199.5,740.9L195.5,748.6" stroke="#3e4989" stroke-width="4.5"/>
<path d="M195.5,748.6L191.4,749.3" stroke="#31688e" stroke-width="4.5"/>
<path d="M191.4,749.3L193.5,753.6" stroke="#21918c" stroke-width="4.5"/>
<path d="M193.5,753.6L197.5,755.7" stroke="#1f9e89" stroke-width="4.5"/>
<path d="M197.5,755.7L202.8,747.4" stroke="#2fb47c" stroke-width="4.5"/>
<path d="M202.8,747.4L205.0,749.8" stroke="#3dbc74" stroke-width="4.5"/>
<path d="M205.0,749.8L202.4,754.9" stroke="#4ec36b" stroke-width="4.5"/>
<path d="M202.4,754.9L205.8,760.2" stroke="#65cb5e" stroke-width="4.5"/>
<path d="M205.8,760.2L209.6,764" stroke="#86d549" stroke-width="4.5"/>
<path d="M209.6,764L210.7,768.9" stroke="#c2df23" stroke-width="4.5"/>
</g>
<rect x="91.5" y="704.5" width="154" height="154" fill="none" stroke="#000" stroke-width="1.11"/>
<g font-family="DejaVu Sans, Liberation Sans, sans-serif" font-size="12.5" font-weight="bold" fill="#000" text-anchor="middle"><text x="166.3" y="682">Wind Profile</text><text x="170.7" y="697">10m/s increment</text></g>
</svg></body></html>
